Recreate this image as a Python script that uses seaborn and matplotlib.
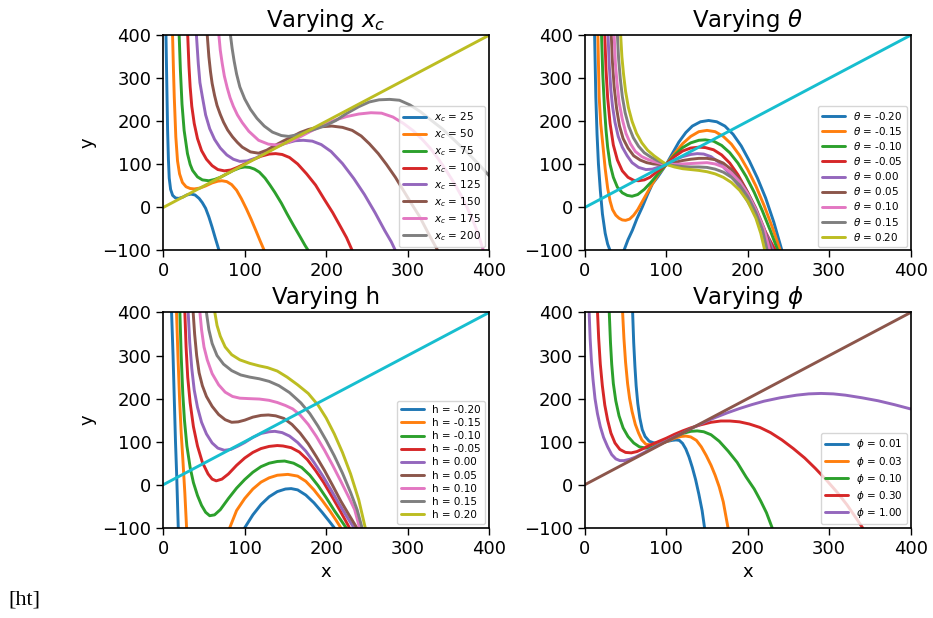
import matplotlib
matplotlib.use("Agg")
import matplotlib.pyplot as plt
import seaborn as sns

# ---- data ----
# straight reference line y = x
diag_x = [0, 400]
diag_y = [0, 400]

# panel 1: varying x_c
xc_labels = [25, 50, 75, 100, 125, 150, 175, 200]
xc_x = [
    [3.3, 4.3, 5.3, 6.3, 7.3, 9, 11.5, 15, 19, 24, 29, 34, 39, 44, 48, 52, 56, 60, 64, 68.5],
    [11.4, 12.5, 13.5, 15.4, 17.5, 20, 23.5, 28, 33, 38, 45, 52, 60, 67, 72, 78, 84, 90, 96, 102, 108, 114, 119, 124],
    [19.5, 21, 23, 25.6, 29.7, 33, 36, 42, 48, 56, 63, 70, 78, 86, 94, 100, 106, 112, 118, 125, 131, 137, 145, 152, 160, 168, 174, 178],
    [30, 31.5, 33, 35, 38, 42, 47, 53, 60, 67, 75, 83, 91, 100, 110, 120, 130, 138, 146, 155, 165, 176, 187, 198, 208, 218, 225, 232],
    [40.7, 43, 45, 48, 52, 57, 63, 70, 78, 86, 94, 103, 114, 125, 138, 150, 162, 172, 183, 194, 206, 220, 234, 247, 260, 272, 280, 285],
    [54, 56, 58, 60, 63, 66, 70, 74, 79, 85, 91, 97, 107, 117, 127, 137, 148, 158, 168, 178, 191, 207, 220, 232, 243, 253, 264, 274, 285, 295, 305, 315, 326, 337],
    [68.3, 70, 72.4, 75, 78.5, 82, 86, 91, 97, 105, 117, 129, 140, 152, 165, 180, 195, 211, 225, 240, 255, 268, 282, 295, 307, 318, 328, 338, 348, 358, 368, 378, 386, 393],
    [82.5, 84.5, 87, 90, 94, 100, 107, 115, 124, 134, 145, 154, 165, 178, 190, 200, 212, 224, 240, 253, 265, 278, 290, 303, 316, 328, 343, 357, 372, 386, 400],
]
xc_y = [
    [400, 290, 180, 112, 68, 42, 28, 22, 21, 24, 29, 31, 29, 21, 11, -2, -22, -46, -72, -100],
    [400, 320, 256, 164, 108, 78, 58, 48, 44, 43, 45, 50, 57, 61, 62, 60, 53, 40, 20, -3, -28, -55, -78, -100],
    [400, 320, 240, 179, 125, 100, 86, 71, 64, 62, 65, 70, 78, 86, 92, 94, 93, 89, 82, 68, 52, 35, 10, -15, -42, -68, -88, -100],
    [400, 330, 280, 235, 195, 160, 132, 112, 97, 88, 85, 87, 93, 101, 111, 119, 124, 125, 123, 116, 101, 78, 52, 18, -12, -46, -70, -100],
    [400, 334, 290, 257, 215, 183, 158, 138, 122, 112, 107, 108, 115, 126, 140, 149, 155, 156, 154, 146, 130, 102, 67, 30, -12, -54, -80, -100],
    [400, 350, 315, 288, 260, 237, 216, 198, 180, 164, 151, 140, 129, 126, 133, 144, 155, 164, 174, 181, 187, 189, 186, 179, 166, 148, 125, 100, 70, 39, 8, -22, -62, -100],
    [400, 365, 334, 305, 278, 255, 235, 215, 197, 177, 156, 147, 145, 150, 161, 176, 190, 203, 211, 217, 220, 219, 210, 195, 178, 158, 137, 112, 84, 54, 20, -20, -58, -100],
    [400, 370, 340, 310, 280, 252, 228, 207, 189, 175, 167, 165, 169, 177, 184, 191, 202, 217, 234, 245, 250, 251, 249, 238, 222, 204, 182, 157, 130, 103, 74],
]

# panel 2: varying theta
theta_labels = ["-0.20", "-0.15", "-0.10", "-0.05", "0.00", "0.05", "0.10", "0.15", "0.20"]
theta_x = [
    [12, 13.5, 15, 16.7, 19, 21.6, 25, 28, 32, 37, 42, 48, 53, 58.4, 64, 70.6, 77, 83, 90, 100, 108, 115.5, 124, 132, 142, 152, 162, 172, 182, 192, 202, 212, 222, 232, 242],
    [16, 17.6, 19.5, 22.4, 25, 28, 31, 34, 38, 42, 46, 50, 55, 60, 65, 73, 82, 90, 100, 110, 120, 130, 140, 150, 160, 170, 180, 190, 200, 210, 220, 230, 240],
    [20.5, 22, 24, 26, 28, 31, 35, 40, 46, 52, 58, 65, 73, 81, 90, 100, 110, 120, 130, 140, 148, 158, 168, 178, 188, 198, 208, 218, 228, 237],
    [24.5, 26, 28, 31, 35, 40, 46, 53, 60, 66, 73, 80, 88, 100, 110, 120, 130, 140, 148, 158, 168, 178, 188, 198, 208, 218, 226, 234],
    [28.5, 30, 32, 34, 37, 41, 46, 52, 58, 66, 75, 83, 91, 100, 110, 120, 130, 138, 146, 155, 165, 176, 187, 198, 208, 218, 225, 231],
    [32.5, 34, 36, 39, 42.5, 47, 53, 60, 68, 76, 84, 92, 100, 110, 120, 130, 140, 150, 160, 170, 180, 190, 200, 210, 220, 229],
    [36, 37.5, 39.5, 42, 46, 50.5, 56, 62, 70, 78, 86, 94, 100, 110, 120, 130, 140, 150, 160, 170, 180, 190, 200, 210, 220, 227],
    [40, 41.5, 43.5, 46, 49.5, 54, 59.5, 66, 73, 81, 89, 100, 110, 120, 130, 140, 150, 160, 170, 180, 190, 200, 210, 218, 224],
    [44, 45.5, 47.5, 50, 53.5, 58, 63.5, 70, 77, 85, 93, 100, 110, 120, 130, 140, 150, 160, 170, 180, 190, 200, 210, 216, 221],
]
theta_y = [
    [400, 257, 170, 101, 40, -15, -60, -85, -105, -122, -122, -100, -75, -53, -26, 1, 30, 55, 72, 100, 127, 152, 174, 189, 199, 202, 199, 189, 170, 143, 108, 68, 22, -34, -100],
    [400, 257, 195, 140, 90, 45, 15, -5, -18, -25, -29, -30, -27, -18, -5, 22, 52, 76, 100, 125, 148, 165, 176, 179, 176, 165, 147, 121, 88, 50, 5, -45, -100],
    [400, 310, 235, 180, 140, 100, 70, 47, 34, 28, 26, 30, 42, 58, 78, 100, 121, 139, 150, 156, 157, 154, 144, 127, 103, 72, 35, -8, -55, -100],
    [400, 320, 255, 195, 145, 110, 85, 70, 63, 62, 64, 70, 82, 100, 118, 131, 138, 140, 139, 134, 122, 103, 76, 42, 2, -43, -72, -100],
    [400, 330, 272, 235, 198, 165, 140, 120, 104, 93, 88, 89, 94, 100, 110, 118, 123, 125, 124, 118, 104, 82, 55, 20, -12, -46, -70, -100],
    [400, 335, 280, 230, 190, 160, 138, 120, 110, 104, 101, 100, 100, 104, 109, 112, 114, 114, 111, 103, 88, 65, 35, -2, -48, -100],
    [400, 335, 290, 245, 205, 172, 148, 130, 118, 111, 106, 102, 100, 100, 101, 102, 103, 104, 101, 94, 80, 60, 32, -5, -50, -100],
    [400, 345, 300, 258, 220, 188, 162, 142, 127, 117, 109, 100, 97, 95, 94, 94, 93, 89, 82, 70, 52, 25, -12, -52, -100],
    [400, 350, 310, 270, 232, 200, 172, 150, 133, 120, 109, 100, 94, 90, 88, 86, 83, 78, 70, 58, 40, 14, -25, -60, -100],
]

# panel 3: varying h
h_labels = ["-0.20", "-0.15", "-0.10", "-0.05", "0.00", "0.05", "0.10", "0.15", "0.20"]
h_x = [
    [10.2, 12, 13.5, 15, 16.5, 18.4, 22, 40, 70, 100, 110, 120, 130, 140, 150, 157, 165, 175, 185, 195, 203, 210],
    [16.3, 18, 20, 22, 24, 26.5, 28.6, 40, 60, 81.6, 90, 100, 110, 120, 130, 140, 153, 165, 175, 185, 195, 205, 212, 218],
    [20.4, 22, 24, 26, 29, 33, 37, 42, 47, 52, 57, 63, 70, 80, 90, 100, 110, 120, 130, 140, 149, 160, 170, 180, 190, 200, 210, 218, 224.5],
    [26.5, 28, 30, 33, 37, 42, 48, 55, 60, 65, 72, 80, 90, 100, 110, 120, 130, 140, 147, 157, 167, 177, 187, 197, 207, 217, 228.6],
    [30.6, 32.5, 35, 38, 42, 47, 53, 60, 67, 75, 83, 92, 100, 110, 120, 130, 137, 146, 155, 165, 175, 185, 196, 206, 216, 225, 234],
    [36.7, 38.5, 41, 44, 48, 53, 60, 68, 76, 84, 92, 100, 110, 120, 129, 138, 148, 158, 168, 178, 188, 198, 208, 218, 228, 237.6],
    [45, 47, 50, 54, 60, 68, 76, 85, 94, 105, 118, 130, 140, 150, 159, 168, 178, 188, 198, 208, 218, 228, 235, 241],
    [53, 56, 60, 66, 74, 84, 95, 106, 118, 130, 142, 155, 169, 180, 190, 200, 210, 220, 230, 238, 244],
    [63.3, 66, 70, 76, 84, 94, 106, 118, 128, 140, 152, 165, 178, 190, 200, 210, 220, 230, 240, 248],
]
h_y = [
    [400, 300, 200, 100, 20, -100, -200, -300, -200, -100, -70, -46, -28, -16, -10, -9, -12, -24, -42, -64, -83, -100],
    [400, 300, 200, 120, 60, -20, -100, -200, -200, -100, -60, -32, -10, 6, 16, 22, 24, 20, 8, -12, -36, -62, -82, -100],
    [400, 300, 210, 150, 90, 40, 5, -25, -48, -64, -72, -70, -58, -32, -8, 12, 29, 42, 50, 54, 55, 50, 40, 22, -2, -30, -60, -82, -100],
    [400, 320, 250, 190, 135, 90, 52, 25, 13, 9, 13, 25, 45, 62, 75, 84, 89, 91, 90, 86, 76, 58, 33, 5, -27, -60, -100],
    [400, 330, 270, 220, 180, 145, 118, 97, 85, 80, 82, 90, 98, 110, 119, 123, 124, 121, 113, 98, 78, 52, 20, -12, -45, -73, -100],
    [400, 350, 300, 260, 230, 205, 182, 163, 151, 145, 146, 150, 157, 161, 162, 160, 154, 140, 120, 95, 65, 33, -2, -38, -70, -100],
    [400, 360, 320, 290, 258, 232, 215, 205, 201, 200, 199, 196, 191, 184, 176, 162, 140, 112, 80, 45, 8, -30, -58, -100],
    [400, 360, 328, 300, 280, 265, 255, 250, 246, 240, 230, 214, 190, 165, 136, 103, 67, 27, -18, -58, -100],
    [400, 370, 345, 320, 302, 290, 282, 276, 272, 264, 250, 232, 212, 185, 155, 118, 75, 25, -35, -100],
]

# panel 4: varying phi
phi_labels = ["0.01", "0.03", "0.10", "0.30", "1.00"]
phi_x = [
    [58.7, 60, 61.5, 63, 65, 67.5, 70.5, 74, 79, 85, 92, 100, 107, 112, 116, 120, 124, 128, 132, 136, 140, 144, 147],
    [46.4, 48, 50, 52.5, 55, 58, 62, 66, 70, 75, 82, 90, 100, 110, 118, 124, 130, 137, 143, 149, 155, 160, 165, 170, 175.8],
    [30, 31.5, 33, 35, 38, 42, 47, 53, 60, 67, 75, 83, 91, 100, 110, 120, 130, 138, 146, 155, 165, 176, 187, 198, 208, 216, 223, 230],
    [15.6, 17, 19, 21.5, 24.5, 28, 32, 37, 43, 50, 57, 64, 72, 80, 90, 100, 110, 120, 130, 142, 155, 167, 178, 190, 202, 215, 228, 242, 256, 270, 283, 297, 310, 322, 334, 341],
    [5.3, 6.5, 8, 10, 12.5, 15.5, 19, 23, 28, 33, 38, 43, 48, 55, 62, 70, 80, 90, 100, 110, 120, 130, 140, 150, 160, 175, 190, 205, 220, 240, 260, 275, 290, 305, 320, 340, 360, 380, 400],
]
phi_y = [
    [400, 330, 275, 230, 189, 155, 128, 112, 101, 97, 97, 100, 103, 104, 103, 96, 83, 64, 40, 12, -22, -60, -100],
    [400, 340, 285, 235, 200, 170, 140, 120, 104, 94, 92, 94, 100, 108, 112, 113, 111, 103, 88, 68, 45, 22, -5, -40, -100],
    [400, 330, 280, 235, 195, 160, 132, 112, 97, 88, 85, 87, 93, 101, 111, 119, 124, 125, 123, 116, 101, 78, 52, 18, -10, -38, -65, -100],
    [400, 340, 280, 230, 185, 150, 120, 97, 82, 75, 74, 77, 84, 92, 100, 108, 117, 125, 132, 139, 145, 148, 148, 146, 141, 133, 121, 104, 84, 62, 38, 10, -18, -47, -80, -100],
    [400, 340, 290, 245, 200, 165, 135, 110, 88, 70, 60, 56, 56, 59, 64, 72, 82, 92, 101, 111, 120, 130, 139, 148, 156, 167, 177, 186, 194, 202, 208, 211, 212, 211, 208, 202, 195, 186, 176],
]

# ---- figure ----
sns.set_style("ticks", {"axes.edgecolor": "black", "xtick.color": "black",
                        "ytick.color": "black", "text.color": "black",
                        "axes.labelcolor": "black"})
plt.rcParams["font.family"] = ["DejaVu Sans"]

fig, axes = plt.subplots(2, 2, figsize=(9.33, 6.18), dpi=100)
fig.subplots_adjust(left=0.175, right=0.976, top=0.943, bottom=0.146,
                    wspace=0.294, hspace=0.288)

panels = [
    (axes[0, 0], "Varying $x_c$", xc_x, xc_y, [f"$x_c$ = {v}" for v in xc_labels]),
    (axes[0, 1], r"Varying $\theta$", theta_x, theta_y, [rf"$\theta$ = {v}" for v in theta_labels]),
    (axes[1, 0], "Varying h", h_x, h_y, [f"h = {v}" for v in h_labels]),
    (axes[1, 1], r"Varying $\phi$", phi_x, phi_y, [rf"$\phi$ = {v}" for v in phi_labels]),
]

for ax, title, xs, ys, labels in panels:
    for i, (cx, cy, lab) in enumerate(zip(xs, ys, labels)):
        sns.lineplot(x=cx, y=cy, ax=ax, color=f"C{i}", label=lab, sort=False,
                     estimator=None, linewidth=2.1)
    # the y = x line takes the next colour of the cycle
    sns.lineplot(x=diag_x, y=diag_y, ax=ax, color=f"C{len(xs)}", sort=False,
                 estimator=None, linewidth=2.1, legend=False)
    ax.set_xlim(0, 400)
    ax.set_ylim(-100, 400)
    ax.set_xticks([0, 100, 200, 300, 400])
    ax.set_yticks([-100, 0, 100, 200, 300, 400])
    ax.tick_params(labelsize=13, length=5, width=1)
    ax.set_title(title, fontsize=16.5)
    ax.set_xlabel("")
    ax.set_ylabel("")
    for sp in ax.spines.values():
        sp.set_linewidth(1.2)
    ax.legend(loc="lower right", fontsize=7.5, borderaxespad=0.35,
              handlelength=2.2, labelspacing=0.3)

axes[0, 0].set_ylabel("y", fontsize=13)
axes[1, 0].set_ylabel("y", fontsize=13)
axes[1, 0].set_xlabel("x", fontsize=13)
axes[1, 1].set_xlabel("x", fontsize=13)

fig.text(0.009, 0.022, "[ht]", fontsize=16, family="Liberation Serif")

fig.savefig("out.png", dpi=100)
